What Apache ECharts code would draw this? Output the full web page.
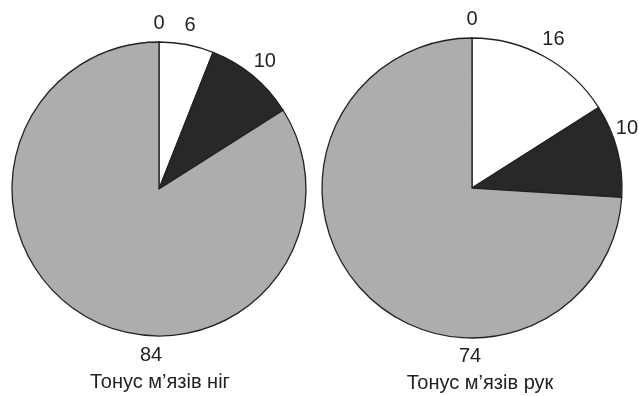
<!DOCTYPE html>
<html>
<head>
<meta charset="utf-8">
<script src="https://cdn.jsdelivr.net/npm/echarts@6/dist/echarts.min.js"></script>
<style>
html,body{margin:0;padding:0;background:#fff;}
#chart{width:639px;height:396px;}
</style>
</head>
<body>
<div id="chart"></div>
<script>
// Data
const categories = ['A', 'B', 'C', 'D'];
const legsValues = [0, 6, 10, 84];
const armsValues = [0, 16, 10, 74];
const pieTitles = ['Тонус м’язів ніг', 'Тонус м’язів рук'];
const sliceColors = ['#ffffff', '#ffffff', '#282828', '#adadad'];

const FONT = 'Liberation Sans, Arial, sans-serif';
const W = 639;
const LABEL_GAP = 16;

function mainSeries(values, center, r) {
  return {
    type: 'pie',
    center: center,
    radius: r,
    startAngle: 90,
    clockwise: true,
    silent: true,
    animation: false,
    label: { show: false },
    labelLine: { show: false },
    itemStyle: { borderColor: '#222', borderWidth: 1.3 },
    data: values.map((v, i) => ({ name: categories[i], value: v, itemStyle: { color: sliceColors[i] } }))
  };
}
function labelSeries(values, center, r) {
  const rho = r + LABEL_GAP;
  return {
    type: 'pie',
    center: center,
    radius: [rho - 11, rho + 11],
    startAngle: 90,
    clockwise: true,
    silent: true,
    animation: false,
    itemStyle: { color: 'rgba(0,0,0,0)', borderWidth: 0 },
    labelLine: { show: false },
    label: {
      show: true, position: 'inside', color: '#222', fontSize: 20, fontFamily: FONT,
      formatter: p => String(p.value)
    },
    // keep labels inside the canvas by sliding them along the label circle
    labelLayout: function (p) {
      const rect = p.labelRect;
      const half = rect.width / 2;
      const cxL = rect.x + half;
      if (cxL + half <= W - 1) return {};
      const maxSin = (W - 1 - half - center[0]) / rho;
      const theta = Math.asin(maxSin);
      return { x: center[0] + rho * Math.sin(theta), y: center[1] - rho * Math.cos(theta) };
    },
    data: values.map((v, i) => ({
      name: categories[i], value: v,
      label: { show: i < values.length - 1 }
    }))
  };
}

const L = { c: [159, 189], r: 147 };
const R = { c: [472, 188], r: 150 };

function txt(text, x, y) {
  return {
    type: 'text', x: x, y: y, silent: true,
    style: { text: text, fill: '#222', font: '20px ' + FONT, textAlign: 'center', textVerticalAlign: 'middle' }
  };
}

const chart = echarts.init(document.getElementById('chart'), null, { renderer: 'canvas' });
chart.setOption({
  backgroundColor: '#ffffff',
  animation: false,
  graphic: [
    txt(String(legsValues[legsValues.length - 1]), 151, 355),
    txt(String(armsValues[armsValues.length - 1]), 470, 356),
    txt(pieTitles[0], 160, 382),
    txt(pieTitles[1], 480, 383)
  ],
  series: [
    mainSeries(legsValues, L.c, L.r),
    labelSeries(legsValues, L.c, L.r),
    mainSeries(armsValues, R.c, R.r),
    labelSeries(armsValues, R.c, R.r)
  ]
});
</script>
</body>
</html>
